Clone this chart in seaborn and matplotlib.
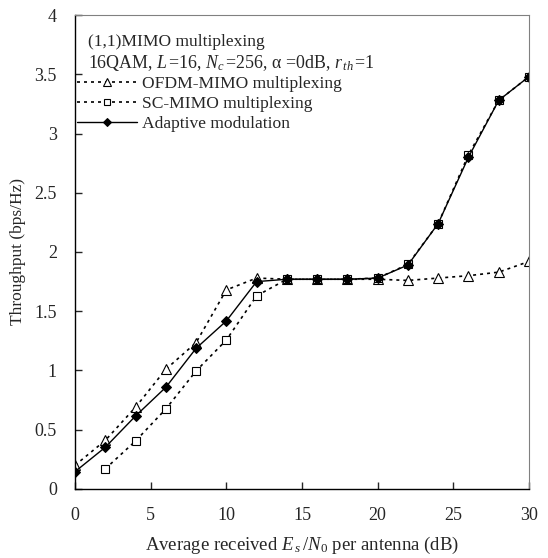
import matplotlib
matplotlib.use("Agg")
import matplotlib.pyplot as plt
import seaborn as sns
import pandas as pd

# data
snr = [0, 2, 4, 6, 8, 10, 12, 14, 16, 18, 20, 22, 24, 26, 28, 30]
ofdm = [0.20, 0.41, 0.69, 1.01, 1.235, 1.68, 1.78, 1.77, 1.77, 1.77, 1.77, 1.76, 1.78, 1.80, 1.83, 1.92]
sc_snr = [2, 4, 6, 8, 10, 12, 14, 16, 18, 20, 22, 24, 26, 28, 30]
sc = [0.17, 0.405, 0.675, 0.996, 1.257, 1.63, 1.77, 1.77, 1.77, 1.78, 1.895, 2.24, 2.82, 3.28, 3.48]
adaptive = [0.146, 0.352, 0.616, 0.858, 1.187, 1.418, 1.75, 1.77, 1.77, 1.77, 1.78, 1.89, 2.24, 2.80, 3.28, 3.48]

labels = ["OFDM-MIMO multiplexing", "SC-MIMO multiplexing", "Adaptive modulation"]

sns.set_style("ticks")
plt.rcParams["font.family"] = ["Liberation Serif", "DejaVu Serif"]
plt.rcParams["mathtext.fontset"] = "custom"
plt.rcParams["mathtext.rm"] = "Liberation Serif"
plt.rcParams["mathtext.it"] = "Liberation Serif:italic"
plt.rcParams["font.size"] = 12.5

fig = plt.figure(figsize=(5.48, 5.58), dpi=100)
ax = fig.add_axes([0.1369, 0.1237, 0.8284, 0.8494])

df_ofdm = pd.DataFrame({"snr": snr, "thr": ofdm})
df_sc = pd.DataFrame({"snr": sc_snr, "thr": sc})
df_ad = pd.DataFrame({"snr": snr, "thr": adaptive})

dots = (0, (1.8, 2.4))
sns.lineplot(data=df_ofdm, x="snr", y="thr", ax=ax, color="black", linestyle=dots,
             linewidth=1.2, marker="^", markersize=6.5, markerfacecolor="white",
             markeredgecolor="black", markeredgewidth=0.8, label=labels[0])
sns.lineplot(data=df_sc, x="snr", y="thr", ax=ax, color="black", linestyle=dots,
             linewidth=1.2, marker="s", markersize=6, markerfacecolor="white",
             markeredgecolor="black", markeredgewidth=0.8, label=labels[1])
sns.lineplot(data=df_ad, x="snr", y="thr", ax=ax, color="black", linestyle="-",
             linewidth=1.0, marker="D", markersize=5.5, markerfacecolor="black",
             markeredgecolor="black", label=labels[2])

ax.set_xlim(0, 30)
ax.set_ylim(0, 4)
ax.set_xticks([0, 5, 10, 15, 20, 25, 30])
ax.set_yticks([0, 0.5, 1, 1.5, 2, 2.5, 3, 3.5, 4])
ax.set_yticklabels(["0", "0.5", "1", "1.5", "2", "2.5", "3", "3.5", "4"])
ax.tick_params(direction="in", length=5, width=1, labelsize=13)
ax.tick_params(axis="x", pad=13)
ax.tick_params(axis="y", pad=13)
for side in ["left", "bottom"]:
    ax.spines[side].set_color("black")
    ax.spines[side].set_linewidth(1.0)
for side in ["top", "right"]:
    ax.spines[side].set_color("#808080")
    ax.spines[side].set_linewidth(0.8)

ax.set_xlabel(r"Average received $E_{\,s}\,/N$$_0$ per antenna (dB)", fontsize=13.5, labelpad=8)
ax.set_ylabel("Throughput (bps/Hz)", fontsize=12.5, labelpad=6)

ax.text(0.028, 0.943, "(1,1)MIMO multiplexing", transform=ax.transAxes,
        fontsize=12.6, va="center", ha="left")
ax.text(0.028, 0.899,
        r"16QAM, $L\,$=16, $N_{c}\,$=256, α =0dB, $r_{\,th}\,$=1",
        transform=ax.transAxes, fontsize=12.9, va="center", ha="left")

leg = ax.legend(loc="upper left", bbox_to_anchor=(-0.01, 0.887), frameon=False,
                fontsize=12.6, handlelength=3.4, handletextpad=0.3,
                labelspacing=0.22, borderaxespad=0.0, markerscale=0.8)

fig.savefig("out.png", dpi=100)
